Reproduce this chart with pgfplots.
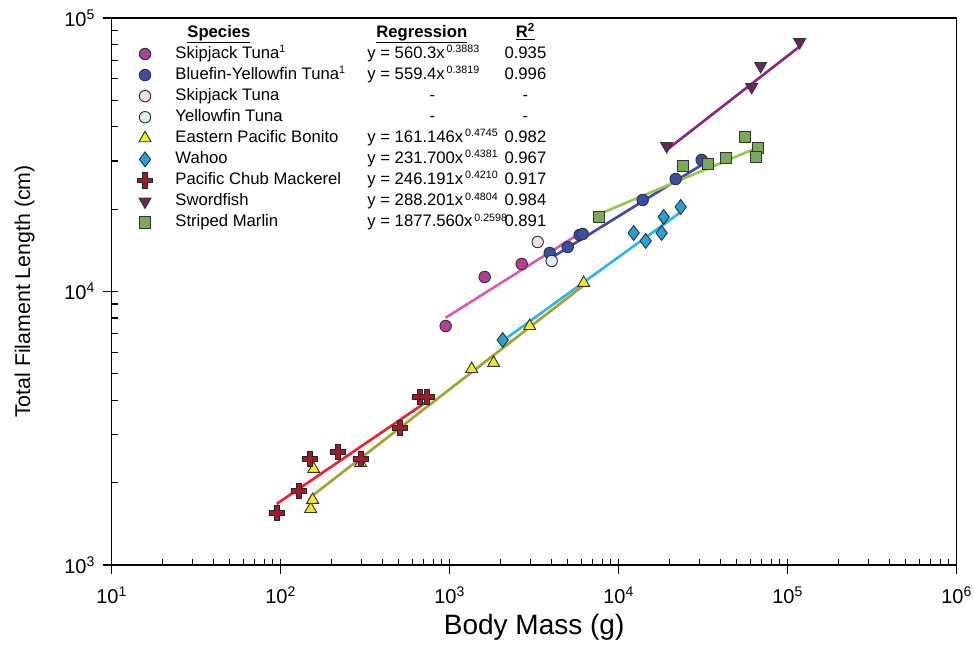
\documentclass[border=0pt]{standalone}
\usepackage{pgfplots}
\pgfplotsset{compat=1.18}
\usepackage{fontspec}
\setmainfont{Liberation Sans}

\definecolor{skipF}{RGB}{176,64,150}
\definecolor{skipL}{RGB}{210,95,180}
\definecolor{blueF}{RGB}{58,78,168}
\definecolor{blueL}{RGB}{72,72,172}
\definecolor{skipO}{RGB}{245,222,232}
\definecolor{yfO}{RGB}{222,238,246}
\definecolor{bonF}{RGB}{240,236,30}
\definecolor{bonL}{RGB}{160,165,50}
\definecolor{wahF}{RGB}{40,160,210}
\definecolor{wahL}{RGB}{50,180,230}
\definecolor{macF}{RGB}{150,30,45}
\definecolor{macL}{RGB}{235,35,50}
\definecolor{swoF}{RGB}{100,40,100}
\definecolor{swoL}{RGB}{140,40,130}
\definecolor{marF}{RGB}{120,170,90}
\definecolor{marL}{RGB}{150,200,80}

\pgfdeclareplotmark{fatplus}{%
  \pgfpathmoveto{\pgfqpoint{-\pgfplotmarksize}{0.3\pgfplotmarksize}}%
  \pgfpathlineto{\pgfqpoint{-0.3\pgfplotmarksize}{0.3\pgfplotmarksize}}%
  \pgfpathlineto{\pgfqpoint{-0.3\pgfplotmarksize}{\pgfplotmarksize}}%
  \pgfpathlineto{\pgfqpoint{0.3\pgfplotmarksize}{\pgfplotmarksize}}%
  \pgfpathlineto{\pgfqpoint{0.3\pgfplotmarksize}{0.3\pgfplotmarksize}}%
  \pgfpathlineto{\pgfqpoint{\pgfplotmarksize}{0.3\pgfplotmarksize}}%
  \pgfpathlineto{\pgfqpoint{\pgfplotmarksize}{-0.3\pgfplotmarksize}}%
  \pgfpathlineto{\pgfqpoint{0.3\pgfplotmarksize}{-0.3\pgfplotmarksize}}%
  \pgfpathlineto{\pgfqpoint{0.3\pgfplotmarksize}{-\pgfplotmarksize}}%
  \pgfpathlineto{\pgfqpoint{-0.3\pgfplotmarksize}{-\pgfplotmarksize}}%
  \pgfpathlineto{\pgfqpoint{-0.3\pgfplotmarksize}{-0.3\pgfplotmarksize}}%
  \pgfpathlineto{\pgfqpoint{-\pgfplotmarksize}{-0.3\pgfplotmarksize}}%
  \pgfpathclose
  \pgfusepathqfillstroke
}

\newcommand{\supx}[1]{\textsuperscript{\fontsize{8}{9}\selectfont #1}}
\newcommand{\cA}[1]{\makebox[144pt][l]{#1}}
\newcommand{\cB}[1]{\makebox[97.5pt][l]{#1}}
\newcommand{\cBc}[1]{\makebox[97.5pt][c]{#1}}
\newcommand{\cC}[1]{\makebox[42pt][c]{#1}}

\begin{document}
\begin{tikzpicture}
\begin{axis}[
  name=ax,
  scale only axis,
  width=633.75pt, height=410.25pt,
  xmode=log, ymode=log,
  xmin=10, xmax=1000000, ymin=1000, ymax=100000,
  xtick={10,100,1000,10000,100000,1000000},
  xticklabels={10\textsuperscript{1},10\textsuperscript{2},10\textsuperscript{3},10\textsuperscript{4},10\textsuperscript{5},10\textsuperscript{6}},
  ytick={1000,10000,100000},
  yticklabels={10\textsuperscript{3},10\textsuperscript{4},10\textsuperscript{5}},
  tick pos=left,
  tick align=inside,
  major tick length=0pt, minor tick length=4.5pt,
  every tick/.style={black, line width=0.8pt},
  axis line style={line width=0.9pt},
  tick label style={font=\fontsize{15}{17}\selectfont},
  xticklabel style={yshift=-13pt},
  yticklabel style={xshift=-9pt},
  extra x ticks={10,100,1000,10000,100000,1000000},
  extra y ticks={1000,10000,100000},
  extra x tick labels={}, extra y tick labels={},
  extra tick style={tick align=outside, major tick length=6.5pt},
  xlabel={Body Mass (g)},
  ylabel={Total Filament Length (cm)},
  xlabel style={font=\fontsize{21}{24}\selectfont, at={(axis description cs:0.5,-0.113)}, anchor=center},
  ylabel style={font=\fontsize{16}{19}\selectfont, at={(axis description cs:-0.103,0.5)}, anchor=center},
  legend style={at={(axis description cs:0.0257,0.9896)}, anchor=north west, draw=none, fill=none,
    inner sep=0pt, row sep=2.3pt, column sep=17pt,
    font=\fontsize{12.5}{14}\selectfont,
    nodes={inner sep=0pt, text height=10pt, text depth=3.5pt}},
  legend cell align=left,
]
% regression lines
\addplot[skipL, line width=2pt, forget plot] coordinates {(947,8020) (6124,16551)};
\addplot[blueL, line width=2pt, forget plot] coordinates {(3800,13025) (31000,29040)};
\addplot[bonL, line width=2pt, forget plot] coordinates {(150,1770) (6300,10600)};
\addplot[wahL, line width=2pt, forget plot] coordinates {(2059,6600) (23280,19500)};
\addplot[macL, line width=2pt, forget plot] coordinates {(94.7,1672) (731,3954)};
\addplot[swoL, line width=2pt, forget plot] coordinates {(19230,32940) (117800,78660)};
\addplot[marL, line width=2pt, forget plot] coordinates {(7615,19150) (66460,33610)};

\addlegendimage{empty legend}
\addlegendentry{\cA{\hspace{9pt}\underline{\textbf{Species}}}\cB{\hspace{6.75pt}\underline{\textbf{Regression}}}\cC{\underline{\textbf{R\textsuperscript{2}}}}}

\addplot[only marks, mark=*, mark size=4.3pt, mark options={fill=skipF, draw=black!80, line width=0.7pt}]
 coordinates {(947,7478) (1611,11300) (2667,12606)};
\addlegendentry{\cA{Skipjack Tuna\supx{1}}\cB{y = 560.3x\supx{\,0.3883}}\cC{0.935}}

\addplot[only marks, mark=*, mark size=4.3pt, mark options={fill=blueF, draw=black!80, line width=0.7pt}]
 coordinates {(3906,13830) (4992,14540) (5878,16090) (6124,16230) (13870,21610) (21740,25780) (30980,30260)};
\addlegendentry{\cA{Bluefin-Yellowfin Tuna\supx{1}}\cB{y = 559.4x\supx{\,0.3819}}\cC{0.996}}

\addplot[only marks, mark=*, mark size=4.3pt, mark options={fill=skipO, draw=black!80, line width=0.7pt}]
 coordinates {(3317,15170)};
\addlegendentry{\cA{Skipjack Tuna}\cBc{-}\cC{-}}

\addplot[only marks, mark=*, mark size=4.3pt, mark options={fill=yfO, draw=black!80, line width=0.7pt}]
 coordinates {(4015,12930)};
\addlegendentry{\cA{Yellowfin Tuna}\cBc{-}\cC{-}}

\addplot[only marks, mark=triangle*, mark size=5.2pt, mark options={fill=bonF, draw=black!80, line width=0.7pt}]
 coordinates {(150.5,1602) (154.6,1729) (156.8,2244) (297.4,2360) (1350,5206) (1821,5478) (2974,7478) (6208,10743)};
\addlegendentry{\cA{Eastern Pacific Bonito}\cB{y = 161.146x\supx{\,0.4745}}\cC{0.982}}

\addplot[only marks, mark=diamond*, mark size=5.6pt, mark options={fill=wahF, draw=black!80, line width=0.7pt}]
 coordinates {(2059,6646) (12270,16365) (14450,15300) (18460,18725) (17960,16365) (23280,20370)};
\addlegendentry{\cA{Wahoo}\cB{y = 231.700x\supx{\,0.4381}}\cC{0.967}}

\addplot[only marks, mark=fatplus, mark size=5.8pt, mark options={fill=macF, draw=black!85, line width=0.6pt}]
 coordinates {(94.7,1549) (127.8,1865) (148.4,2441) (217.4,2589) (297.4,2441) (506,3169) (664.5,4115) (731,4115)};
\addlegendentry{\cA{Pacific Chub Mackerel}\cB{y = 246.191x\supx{\,0.4210}}\cC{0.917}}

\addplot[only marks, mark=triangle*, mark size=5.2pt, mark options={rotate=180, fill=swoF, draw=black!80, line width=0.7pt}]
 coordinates {(19230,34040) (61240,55940) (69210,66760) (117800,81700)};
\addlegendentry{\cA{Swordfish}\cB{y = 288.201x\supx{\,0.4804}}\cC{0.984}}

\addplot[only marks, mark=square*, mark size=4.2pt, mark options={fill=marF, draw=black!80, line width=0.7pt}]
 coordinates {(7615,18725) (23910,28760) (33620,29250) (42970,30770) (55680,36720) (66460,33470) (64680,31030)};
\addlegendentry{\cA{Striped Marlin}\cB{y = 1877.560x\supx{\,0.2598}}\cC{0.891}}
\end{axis}
\pgfresetboundingbox
\path[use as bounding box] ([xshift=-83.75pt,yshift=-59.25pt]ax.south west) rectangle ([xshift=13pt,yshift=13.5pt]ax.north east);
\end{tikzpicture}
\end{document}
